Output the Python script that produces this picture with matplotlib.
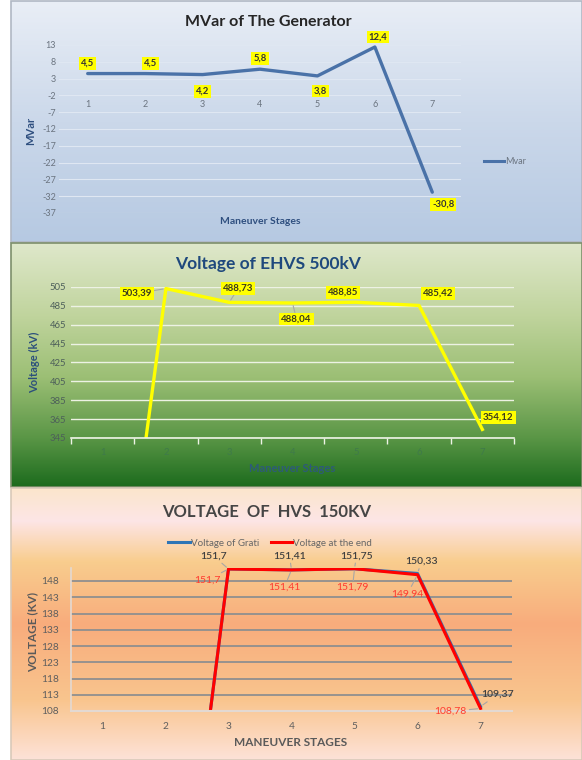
import matplotlib
matplotlib.use("Agg")
import matplotlib.pyplot as plt
import numpy as np
from matplotlib.colors import LinearSegmentedColormap
from matplotlib.patches import Rectangle
from matplotlib.lines import Line2D

plt.rcParams['font.family'] = ['Lato', 'DejaVu Sans']

# ---- data ----
stages = [1, 2, 3, 4, 5, 6, 7]

mvar = [4.5, 4.5, 4.2, 5.8, 3.8, 12.4, -30.8]
mvar_ticks = [13, 8, 3, -2, -7, -12, -17, -22, -27, -32, -37]

ehvs_500 = [0, 503.39, 488.73, 488.04, 488.85, 485.42, 354.12]
ehvs_ticks = [505, 485, 465, 445, 425, 405, 385, 365, 345]

grati = [0, 0, 151.7, 151.41, 151.75, 150.33, 109.37]
at_end = [0, 0, 151.7, 151.41, 151.79, 149.94, 108.78]
hvs_ticks = [148, 143, 138, 133, 128, 123, 118, 113, 108]

W, H = 582, 760
fig = plt.figure(figsize=(W / 100, H / 100), dpi=100)


def rect(x0, y0, x1, y1):
    # pixel box (top-left origin) -> figure fraction
    return [x0 / W, 1 - y1 / H, (x1 - x0) / W, (y1 - y0) / H]


def px(x, y):
    return x / W, 1 - y / H


def background(box, stops, edge):
    bg = fig.add_axes(rect(*box), zorder=0)
    cmap = LinearSegmentedColormap.from_list("bg", stops)
    grad = np.linspace(0, 1, 256).reshape(-1, 1)
    bg.imshow(grad, aspect='auto', cmap=cmap, extent=[0, 1, 0, 1], origin='upper')
    bg.set_xlim(0, 1)
    bg.set_ylim(0, 1)
    bg.axis('off')
    bg.add_patch(Rectangle((0, 0), 1, 1, fill=False, edgecolor=edge, linewidth=1.2,
                           transform=bg.transAxes, clip_on=False))


def label(ax, x, y, text, dx, dy, box=True, color='#333333', size=6.8, weight='bold', leader=False):
    kw = {}
    if box:
        kw['bbox'] = dict(facecolor='#ffff00', edgecolor='none', boxstyle='square,pad=0.2')
    if leader:
        kw['arrowprops'] = dict(arrowstyle='-', color='#a6a6a6', lw=0.8, shrinkA=0, shrinkB=2)
    ax.annotate(text, (x, y), xytext=(dx, dy), textcoords='offset pixels',
                ha='center', va='center', fontsize=size, fontweight=weight, color=color,
                zorder=5, **kw)


def fmt(v):
    return f"{v:g}".replace('.', ',')


# ---------------- panel 1: MVar ----------------
background((11, 1, 582, 242), [(0, '#e9eef6'), (0.5, '#cbd8ea'), (1, '#b6c9e2')], '#b0b8c4')
ax1 = fig.add_axes(rect(59, 45, 461, 213), zorder=2)
ax1.set_facecolor('none')
ax1.plot(stages, mvar, color='#4a72a8', lw=2.4, solid_capstyle='round')
ax1.set_xlim(0.5, 7.5)
ax1.set_ylim(-37, 13)
ax1.set_yticks(mvar_ticks)
ax1.set_yticklabels([str(t) for t in mvar_ticks])
ax1.set_xticks(stages)
ax1.spines['bottom'].set_position(('data', 0))
for s in ax1.spines.values():
    s.set_visible(False)
ax1.tick_params(axis='both', length=0, labelsize=6.5, colors='#6b7480')
ax1.tick_params(axis='x', pad=8)
ax1.tick_params(axis='y', pad=2)
ax1.grid(axis='y', color='#dfe7f2', lw=0.8)
ax1.set_axisbelow(True)

offs1 = [(0, 10), (5, 10), (0, -17), (0, 11), (3, -15), (3, 10), (11, -12)]
for x, v, (dx, dy) in zip(stages, mvar, offs1):
    label(ax1, x, v, fmt(v), dx, dy)

fig.text(*px(268, 22), "MVar of The Generator", ha='center', va='center',
         fontsize=11.5, fontweight='bold', color='#262626')
fig.text(*px(260, 222), "Maneuver Stages", ha='center', va='center',
         fontsize=7.5, fontweight='bold', color='#2f4f7f')
fig.text(*px(31, 131), "MVar", ha='center', va='center', rotation=90,
         fontsize=8, fontweight='bold', color='#2f4f7f')
fig.legend(handles=[Line2D([], [], color='#4a72a8', lw=2.2)], labels=['Mvar'],
           loc='center', bbox_to_anchor=px(505, 162), frameon=False, fontsize=6.5,
           handlelength=2.2, handletextpad=0.1, labelcolor='#6b7480')

# ---------------- panel 2: EHVS 500kV ----------------
background((11, 243, 582, 487),
           [(0, '#dfe8cb'), (0.3, '#c0d49d'), (0.55, '#9cbf75'), (0.8, '#5a9646'), (1, '#1c6b1d')],
           '#7d8f6b')
ax2 = fig.add_axes(rect(71, 287, 514, 438), zorder=2)
ax2.set_facecolor('none')
ax2.plot(stages, ehvs_500, color='#ffff00', lw=2.4, clip_on=True)
ax2.set_xlim(0.5, 7.5)
ax2.set_ylim(345, 505)
ax2.set_yticks(ehvs_ticks)
ax2.set_xticks(stages)
ax2.set_xticks(np.arange(0.5, 8, 1), minor=True)
for k in ['top', 'right', 'left']:
    ax2.spines[k].set_visible(False)
ax2.spines['bottom'].set_color('#eef3e6')
ax2.spines['bottom'].set_linewidth(1.2)
ax2.tick_params(axis='y', length=0, labelsize=6.8, colors='#4d5f5a')
ax2.tick_params(axis='x', which='major', length=0, labelsize=6.8, colors='#3f7a4a', pad=7)
ax2.tick_params(axis='x', which='minor', length=4, color='#eef3e6', width=1, direction='out')
ax2.grid(axis='y', color='#edf2e4', lw=1.0)
ax2.set_axisbelow(True)

offs2 = [None, (-29, -5), (9, 14), (4, -16), (-13, 10), (19, 12), (16, 12)]
for x, v, o in zip(stages, ehvs_500, offs2):
    if o is None:
        continue
    label(ax2, x, v, fmt(v), o[0], o[1], size=7, color='#3a3a1e', leader=(x in (2, 3, 4)))

fig.text(*px(268, 264), "Voltage of EHVS 500kV", ha='center', va='center',
         fontsize=12.5, fontweight='bold', color='#1f497d')
fig.text(*px(292, 468), "Maneuver Stages", ha='center', va='center',
         fontsize=8, fontweight='bold', color='#2d5a7a')
fig.text(*px(35, 362), "Voltage (kV)", ha='center', va='center', rotation=90,
         fontsize=8, fontweight='bold', color='#2c4f7c')

# ---------------- panel 3: HVS 150kV ----------------
background((11, 488, 582, 760),
           [(0, '#fbe6cc'), (0.12, '#fde5e6'), (0.27, '#f9cd8e'), (0.5, '#f8ac7c'),
            (0.78, '#f9c58e'), (1, '#fde2d8')], '#d9c9b9')
ax3 = fig.add_axes(rect(71, 568, 512, 711), zorder=2)
ax3.set_facecolor('none')
ax3.plot(stages, grati, color='#2e75b6', lw=2.2, label='Voltage of Grati')
ax3.plot(stages, at_end, color='#ff0000', lw=2.2, label='Voltage at the end')
ax3.set_xlim(0.5, 7.5)
ax3.set_ylim(108, 152)
ax3.set_yticks(hvs_ticks)
ax3.set_xticks(stages)
for k in ['top', 'right']:
    ax3.spines[k].set_visible(False)
ax3.spines['left'].set_color('#e3d9d2')
ax3.spines['bottom'].set_color('#e3d9d2')
ax3.spines['left'].set_linewidth(1.2)
ax3.spines['bottom'].set_linewidth(1.5)
ax3.tick_params(axis='both', length=0, labelsize=7.3, colors='#5e5e5e')
ax3.tick_params(axis='x', pad=8)
ax3.tick_params(axis='y', pad=9)
ax3.grid(axis='y', color='#8f8f8f', lw=1.3)
ax3.set_axisbelow(True)

offs_g = [None, None, (-15, 13), (-2, 14), (2, 13), (4, 12), (17, 12)]
offs_e = [None, None, (-21, -11), (-7, -17), (-2, -19), (-10, -19), (-30, -3)]
for x, g, e, og, oe in zip(stages, grati, at_end, offs_g, offs_e):
    if og is None:
        continue
    label(ax3, x, g, fmt(g), og[0], og[1], box=False, color='#404040', size=7.5,
          weight='semibold', leader=True)
    label(ax3, x, e, fmt(e), oe[0], oe[1], box=False, color='#ff3b30', size=7.5,
          weight='normal', leader=True)

fig.legend(*ax3.get_legend_handles_labels(), loc='center', bbox_to_anchor=px(270, 543),
           ncol=2, frameon=False, fontsize=7, handlelength=2.2, handletextpad=0.1,
           columnspacing=1.2, labelcolor='#666666')

fig.text(*px(267, 512), "VOLTAGE  OF  HVS  150KV", ha='center', va='center',
         fontsize=12, fontweight='bold', color='#454545')
fig.text(*px(291, 743), "MANEUVER STAGES", ha='center', va='center',
         fontsize=8.5, fontweight='bold', color='#5a5a5a')
fig.text(*px(33, 632), "VOLTAGE (KV)", ha='center', va='center', rotation=90,
         fontsize=8.5, fontweight='bold', color='#5a5a5a')

fig.savefig("out.png", dpi=100)
